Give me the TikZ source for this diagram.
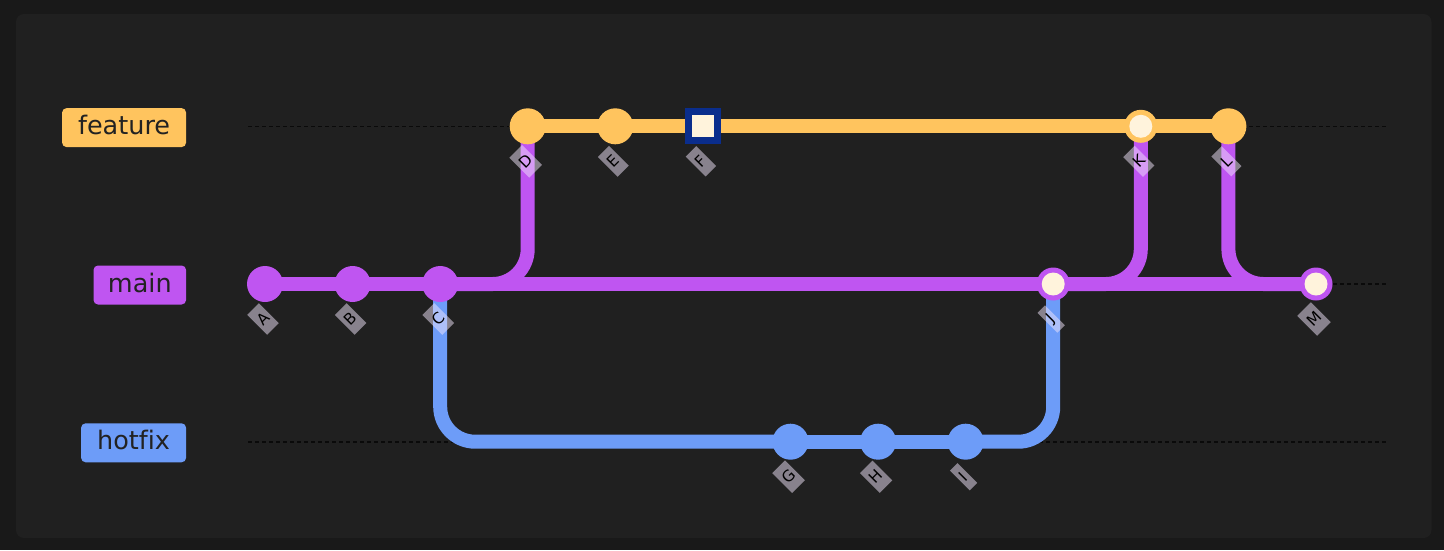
\documentclass[tikz,border=0pt]{standalone}
\usepackage{fontspec}
\setmainfont{DejaVu Sans}[Ligatures=NoCommon]
\definecolor{outerbg}{RGB}{25,25,25}
\definecolor{panel}{RGB}{32,32,32}
\definecolor{cfeat}{RGB}{255,196,94}
\definecolor{cmain}{RGB}{191,85,241}
\definecolor{chot}{RGB}{109,156,248}
\definecolor{cream}{RGB}{255,243,220}
\definecolor{hlblue}{RGB}{10,45,140}
\definecolor{dashc}{RGB}{10,10,10}
\definecolor{lblfill}{RGB}{240,228,250}
\definecolor{lbltext}{RGB}{34,34,34}
\tikzset{
  commit/.style={circle, minimum size=36pt, inner sep=0pt},
  mergeout/.style={circle, minimum size=33pt, inner sep=0pt},
  mergein/.style={circle, fill=cream, minimum size=23pt, inner sep=0pt},
  hlout/.style={rectangle, fill=hlblue, minimum size=36pt, inner sep=0pt},
  hlin/.style={rectangle, fill=cream, minimum size=22pt, inner sep=0pt},
  branchline/.style={line width=14pt},
  conn/.style={line width=14pt, rounded corners=35pt},
  lane/.style={draw=dashc, line width=1.6pt, dash pattern=on 4pt off 3pt},
  blabel/.style={rounded corners=4.5pt, inner sep=0pt, text=lbltext, font=\fontsize{25.5}{30}\selectfont, minimum height=39pt, text height=19pt, text depth=5pt, anchor=east},
  clabel/.style={rotate=45, fill=lblfill, fill opacity=0.5, text opacity=1, inner xsep=3pt, inner ysep=0pt, minimum height=28pt, font=\fontsize{15.5}{17}\selectfont, text=black},
}
\begin{document}
\begin{tikzpicture}[x=1pt,y=-1pt]
  \useasboundingbox (0,0) rectangle (1444,550);
  \fill[outerbg] (0,0) rectangle (1444,550);
  \fill[panel, rounded corners=8pt] (16,14) rectangle (1431.5,538);

  % commit positions
  \coordinate (pA) at (265,284);
  \coordinate (pB) at (352.6,284);
  \coordinate (pC) at (440.2,284);
  \coordinate (pD) at (527.7,126.3);
  \coordinate (pE) at (615.3,126.3);
  \coordinate (pF) at (702.9,126.3);
  \coordinate (pG) at (790.5,441.7);
  \coordinate (pH) at (878.1,441.7);
  \coordinate (pI) at (965.6,441.7);
  \coordinate (pJ) at (1053.2,284);
  \coordinate (pK) at (1140.8,126.3);
  \coordinate (pL) at (1228.4,126.3);
  \coordinate (pM) at (1316,284);

  % lanes
  \coordinate (fs) at (248,126.3); \coordinate (fe) at (1386,126.3);
  \coordinate (ms) at (248,284);   \coordinate (me) at (1386,284);
  \coordinate (hs) at (248,441.7); \coordinate (he) at (1386,441.7);
  \draw[lane] (fs) -- (fe);
  \draw[lane] (ms) -- (me);
  \draw[lane] (hs) -- (he);

  % branch labels
  \node[blabel, fill=cfeat, minimum width=124pt] (bfeature) at (186.3,127.6) {feature};
  \node[blabel, fill=cmain, minimum width=92.6pt] (bmain) at (186.3,285) {main};
  \node[blabel, fill=chot, minimum width=105pt] (bhotfix) at (186.3,442.8) {hotfix};

  % connectors
  \draw[conn, draw=chot] (pC) |- (pG);
  \draw[conn, draw=chot] (pI) -| (pJ);
  \draw[conn, draw=cmain] (pC) -| (pD);
  \draw[conn, draw=cmain] (pJ) -| (pK);
  \draw[conn, draw=cmain] (pL) |- (pM);

  % branch lines
  \draw[branchline, draw=cmain] (pA) -- (pM);
  \draw[branchline, draw=cfeat] (pD) -- (pL);
  \draw[branchline, draw=chot] (pG) -- (pI);

  % commits
  \node[commit, fill=cmain] (A) at (pA) {};
  \node[commit, fill=cmain] (B) at (pB) {};
  \node[commit, fill=cmain] (C) at (pC) {};
  \node[commit, fill=cfeat] (D) at (pD) {};
  \node[commit, fill=cfeat] (E) at (pE) {};
  \node[hlout] (F) at (pF) {};
  \node[hlin] (Fin) at (F) {};
  \node[commit, fill=chot] (G) at (pG) {};
  \node[commit, fill=chot] (H) at (pH) {};
  \node[commit, fill=chot] (I) at (pI) {};
  \node[mergeout, fill=cmain] (J) at (pJ) {};
  \node[mergein] (Jin) at (J) {};
  \node[mergeout, fill=cfeat] (K) at (pK) {};
  \node[mergein] (Kin) at (K) {};
  \node[commit, fill=cfeat] (L) at (pL) {};
  \node[mergeout, fill=cmain] (M) at (pM) {};
  \node[mergein] (Min) at (M) {};

  % commit labels
  \foreach \n in {A,B,C,D,E,F,G,H,I,J,K,L,M}{
    \node[clabel] (l\n) at ([shift={(-2,35)}]p\n) {\n};
  }
\end{tikzpicture}
\end{document}
